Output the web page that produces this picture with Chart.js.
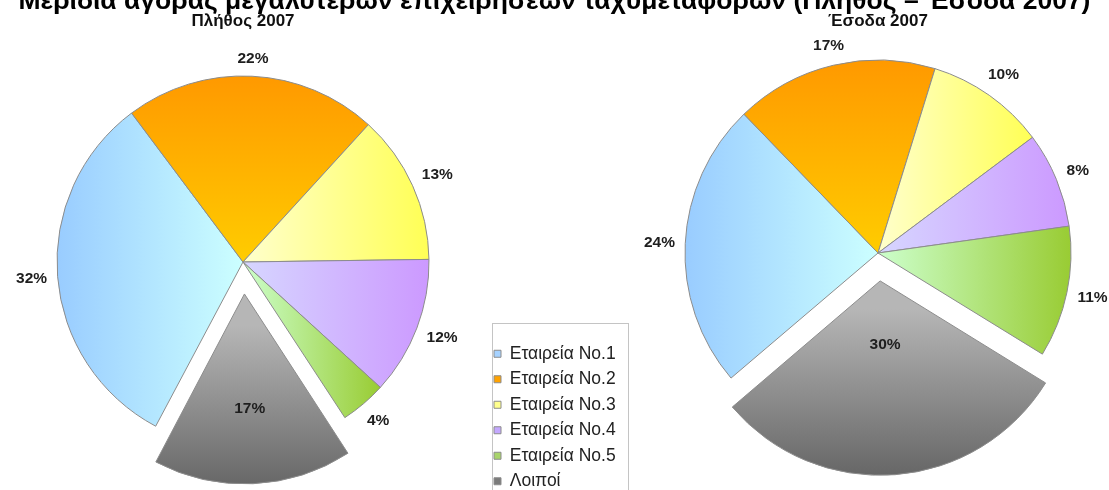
<!DOCTYPE html>
<html>
<head>
<meta charset="utf-8">
<script src="https://cdn.jsdelivr.net/npm/chart.js@4.4.1/dist/chart.umd.min.js"></script>
<style>
  html, body { margin: 0; padding: 0; background: #fff; overflow: hidden; width: 1109px; height: 490px; }
  #mainTitle { position: absolute; left: 0; top: -13px; width: 1109px; text-align: center;
    font: bold 26.5px "Liberation Sans", Arial, sans-serif; line-height: 26px; color: #000; white-space: nowrap; }
  #countChart { position: absolute; left: 0; top: 0; }
  #revenueChart { position: absolute; left: 630px; top: 0; }
</style>
</head>
<body>
<canvas id="countChart" width="636" height="498"></canvas>
<canvas id="revenueChart" width="496" height="490"></canvas>
<div id="mainTitle">Μερίδια αγοράς μεγαλύτερων επιχειρήσεων ταχυμεταφορών (Πλήθος – Έσοδα 2007)</div>
<script>
const companies = ['Εταιρεία No.1', 'Εταιρεία No.2', 'Εταιρεία No.3', 'Εταιρεία No.4', 'Εταιρεία No.5', 'Λοιποί'];
const countShare2007 = [32, 22, 13, 12, 4, 17];
const revenueShare2007 = [24, 17, 10, 8, 11, 30];

const FONT = '"Liberation Sans", Arial, sans-serif';

// flat colours for the legend, gradients for the slices
const flatColors = ['#a6d2ff', '#ffa200', '#ffff8c', '#c4a8ff', '#a8d46a', '#7a7a7a'];
const sliceGradients = [
  ['#99ccff', '#ccffff', 'h'],
  ['#ff9900', '#ffcc00', 'v'],
  ['#ffffcc', '#ffff55', 'h'],
  ['#d6d6ff', '#cc99ff', 'h'],
  ['#ccffcc', '#99cc33', 'h'],
  ['#b6b6b6', '#5a5a5a', 'v']
];

const sliceShading = {
  id: 'sliceShading',
  beforeDatasetsDraw(chart) {
    const ctx = chart.ctx;
    chart.getDatasetMeta(0).data.forEach((arc, i) => {
      const p = arc.getProps(['x', 'y', 'startAngle', 'endAngle', 'outerRadius']);
      const mid = (p.startAngle + p.endAngle) / 2;
      const shift = (arc.options.offset || 0) / 4;
      const cx = p.x + Math.cos(mid) * shift, cy = p.y + Math.sin(mid) * shift;
      let x0 = cx, x1 = cx, y0 = cy, y1 = cy;
      for (let k = 0; k <= 24; k++) {
        const a = p.startAngle + (p.endAngle - p.startAngle) * k / 24;
        const px = cx + Math.cos(a) * p.outerRadius, py = cy + Math.sin(a) * p.outerRadius;
        x0 = Math.min(x0, px); x1 = Math.max(x1, px);
        y0 = Math.min(y0, py); y1 = Math.max(y1, py);
      }
      const [c0, c1, dir] = sliceGradients[i];
      const g = dir === 'h' ? ctx.createLinearGradient(x0, 0, x1, 0) : ctx.createLinearGradient(0, y0, 0, y1);
      g.addColorStop(0, c0);
      g.addColorStop(1, c1);
      arc.options.backgroundColor = g;
    });
  }
};

const percentLabels = {
  id: 'percentLabels',
  afterDatasetsDraw(chart, args, opts) {
    const ctx = chart.ctx;
    const values = chart.data.datasets[0].data;
    ctx.save();
    ctx.font = 'bold 15.5px ' + FONT;
    ctx.fillStyle = '#1e1e1e';
    ctx.textAlign = 'center';
    ctx.textBaseline = 'middle';
    chart.getDatasetMeta(0).data.forEach((arc, i) => {
      const p = arc.getProps(['x', 'y', 'startAngle', 'endAngle', 'outerRadius']);
      const mid = (p.startAngle + p.endAngle) / 2;
      const dx = Math.cos(mid), dy = Math.sin(mid);
      const text = values[i] + '%';
      let r;
      if (arc.options.offset) {
        r = arc.options.offset / 4 + p.outerRadius * opts.inside;
      } else {
        const w = ctx.measureText(text).width;
        r = p.outerRadius + opts.gap + Math.abs(dx) * w / 2 + Math.abs(dy) * 7;
      }
      ctx.fillText(text, p.x + dx * r, p.y + dy * r);
    });
    ctx.restore();
  }
};

const legendWidth = {
  id: 'legendWidth',
  beforeInit(chart) {
    const fit = chart.legend.fit;
    chart.legend.fit = function () { fit.call(this); this.width = 150; };
  }
};

const legendFrame = {
  id: 'legendFrame',
  afterDraw(chart) {
    const lg = chart.legend;
    const n = lg.legendItems.length;
    const top = lg.bottom - n * (17 * 1.2 + 8) - 5;
    const ctx = chart.ctx;
    ctx.save();
    ctx.strokeStyle = '#c4c4c4';
    ctx.lineWidth = 1;
    ctx.strokeRect(Math.round(lg.left) + 6.5, Math.round(top) + 0.5, 136, chart.height);
    ctx.restore();
  }
};

new Chart(document.getElementById('countChart'), {
  type: 'pie',
  data: {
    labels: companies,
    datasets: [{
      data: countShare2007,
      backgroundColor: flatColors,
      borderColor: '#8c8c8c',
      borderWidth: 1,
      offset: [0, 0, 0, 0, 0, 128],
      hoverOffset: 0
    }]
  },
  options: {
    responsive: false,
    animation: false,
    radius: 186,
    rotation: -152,
    plugins: {
      title: {
        display: true,
        text: 'Πλήθος 2007',
        fullSize: false,
        color: '#111',
        font: { family: FONT, size: 17, weight: 'bold' },
        padding: { top: 11, bottom: 10 }
      },
      subtitle: {
        display: true,
        text: '',
        position: 'bottom',
        fullSize: false,
        font: { size: 10, lineHeight: 1 },
        padding: { top: 0, bottom: 5.4 }
      },
      legend: {
        position: 'right',
        align: 'end',
        labels: {
          boxWidth: 7,
          boxHeight: 7,
          padding: 8,
          color: '#222',
          font: { family: FONT, size: 17.5 }
        }
      },
      tooltip: { enabled: false },
      percentLabels: { gap: 10, inside: 0.62 }
    }
  },
  plugins: [legendWidth, sliceShading, percentLabels, legendFrame]
});

new Chart(document.getElementById('revenueChart'), {
  type: 'pie',
  data: {
    labels: companies,
    datasets: [{
      data: revenueShare2007,
      backgroundColor: flatColors,
      borderColor: '#8c8c8c',
      borderWidth: 1,
      offset: [0, 0, 0, 0, 0, 112],
      hoverOffset: 0
    }]
  },
  options: {
    responsive: false,
    animation: false,
    radius: 193,
    rotation: -130.4,
    layout: { padding: { bottom: 20.4 } },
    plugins: {
      title: {
        display: true,
        text: 'Έσοδα 2007',
        color: '#111',
        font: { family: FONT, size: 17, weight: 'bold' },
        padding: { top: 11, bottom: 5 }
      },
      legend: { display: false },
      tooltip: { enabled: false },
      percentLabels: { gap: 10, inside: 0.33 }
    }
  },
  plugins: [sliceShading, percentLabels]
});
</script>
</body>
</html>
